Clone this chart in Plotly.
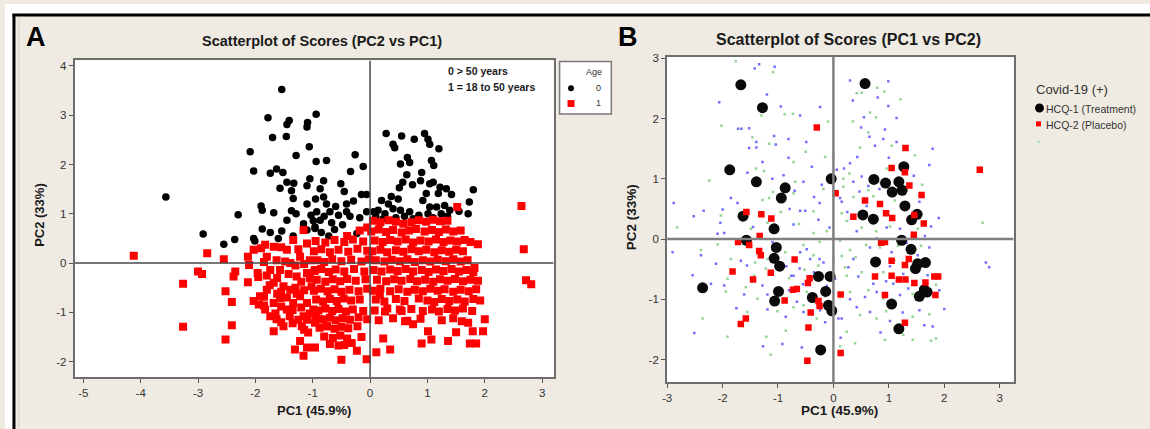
import plotly.graph_objects as go

W, H = 1150, 429


def px(x):
    return x / W


def py(y):
    return 1 - y / H


# ---------------- Panel A data: Age 0 (>50 years) ----------------
A_age0 = [
    (-1.54, 3.52), (-1.78, 2.95), (-1.41, 2.89), (-1.45, 2.81), (-1.09, 2.85), (-1.10, 2.76), (-0.94, 3.02),
    (-1.70, 2.55), (-1.46, 2.57), (-1.06, 2.36), (-2.09, 2.26), (-1.29, 2.18), (-0.94, 2.06), (-2.03, 1.87),
    (-1.74, 1.82), (-1.63, 1.91), (-1.52, 1.84), (-1.45, 1.64), (-1.33, 1.62), (-1.57, 1.52), (-1.37, 1.47),
    (-1.05, 1.71), (-1.10, 1.57), (-1.34, 1.31), (-3.56, 1.34), (-2.30, 0.98), (-1.90, 1.16), (-1.88, 1.07),
    (-1.68, 1.02), (-1.37, 1.06), (-1.29, 1.00), (-1.45, 0.87), (-1.10, 1.20), (-1.03, 0.97), (-0.99, 0.86),
    (-1.16, 0.80), (-2.91, 0.59), (-2.55, 0.38), (-2.36, 0.48), (-2.03, 0.50), (-2.01, 0.45), (-1.88, 0.69),
    (-1.74, 0.62), (-1.54, 0.65), (-1.60, 0.50), (-1.34, 0.55), (-1.10, 0.67), (-0.96, 0.70),
    (-0.76, 2.08), (-0.26, 2.20), (-0.12, 1.96), (-0.34, 1.86), (-0.81, 1.67), (-0.51, 1.61), (-0.87, 1.51),
    (-0.81, 1.34), (-0.76, 1.20), (-0.41, 1.20), (-0.29, 1.26), (-0.15, 1.39), (-0.06, 1.39), (-0.93, 1.04),
    (-0.70, 1.04), (-0.55, 0.97), (-0.87, 0.87), (-0.67, 0.82), (-0.23, 0.60), (-0.06, 1.04), (-0.96, 0.73),
    (-0.41, 1.04), (-0.85, 0.62), (-0.72, 0.55), (-0.62, 0.68), (-0.48, 0.78), (-0.35, 0.95), (-0.18, 0.92),
    (-0.80, 0.95), (-0.60, 1.15), (-0.95, 1.30), (-0.45, 1.45),
    (0.28, 2.63), (0.55, 2.58), (0.40, 2.41), (0.43, 2.34), (0.77, 2.51), (0.95, 2.63), (1.01, 2.51),
    (1.04, 2.41), (1.20, 2.32), (0.65, 2.14), (0.69, 2.04), (0.53, 2.01), (1.07, 2.08), (1.11, 1.98),
    (0.90, 1.84), (0.64, 1.79), (0.57, 1.64), (0.51, 1.53), (0.74, 1.59), (0.88, 1.67), (1.04, 1.61),
    (1.10, 1.64), (1.22, 1.54), (1.19, 1.41), (1.33, 1.51), (1.42, 1.39), (1.80, 1.49), (0.98, 1.41),
    (0.37, 1.35), (0.20, 1.27), (0.32, 1.20), (0.49, 1.30), (0.14, 1.07), (0.06, 1.04), (0.26, 1.00),
    (0.40, 1.10), (0.53, 1.07), (0.69, 1.04), (0.92, 1.27), (1.04, 1.14), (1.01, 1.00), (1.16, 1.14),
    (1.30, 1.17), (1.39, 1.07), (1.71, 1.00), (1.73, 1.24), (0.23, 0.90), (0.75, 0.90), (1.24, 1.00),
    (0.10, 0.95), (0.45, 0.92), (0.60, 0.95), (0.85, 0.97), (1.10, 0.92), (1.35, 0.95), (1.55, 1.05),
]

# ---------------- Panel A data: Age 1 (18 to 50 years) ----------------
A_age1 = [
    (-4.12, 0.15), (-2.84, 0.20), (-2.55, 0.08), (-3.00, -0.17), (-2.93, -0.22), (-3.26, -0.42), (-3.26, -1.29),
    (-2.52, -0.57), (-2.41, -0.79), (-2.41, -1.26), (-2.52, -1.55), (-2.38, -0.27), (-2.35, -0.17), (-2.13, 0.13),
    (-2.11, -0.04), (-2.13, -0.39), (-1.96, -0.20), (-2.03, 0.27), (-1.83, 0.37), (-1.68, 0.33), (-1.16, 0.67),
    (-1.45, 0.27), (-1.34, 0.47), (-1.10, 0.40), (-1.80, 0.13), (-1.63, 0.06), (-1.74, -0.14), (-1.57, -0.14),
    (-1.39, 0.00), (-1.22, 0.13), (-1.05, 0.06), (-0.96, -0.14), (-1.10, -0.20), (-1.28, -0.27), (-1.68, -0.40),
    (-1.51, -0.47), (-1.39, -0.54), (-1.80, -0.54), (-1.92, -0.67), (-2.03, -0.77), (-1.94, -0.84), (-1.83, -0.94),
    (-1.68, -0.81), (-1.57, -0.71), (-1.45, -0.94), (-1.74, -1.08), (-1.68, -1.38), (-1.51, -1.28), (-1.63, -1.14),
    (-1.22, -0.67), (-1.10, -0.81), (-0.99, -0.94), (-1.16, -1.08), (-1.19, -1.28), (-1.08, -1.41), (-1.22, -1.58),
    (-1.31, -1.75), (-1.16, -1.88), (-1.10, -1.71), (-0.96, -1.71), (-0.96, -1.21), (-1.02, -0.47), (-1.34, -0.81),
    (-1.90, 0.30), (-1.55, 0.32), (-1.25, 0.28), (-1.85, 0.02), (-1.48, 0.03), (-1.30, -0.05), (-1.15, -0.02),
    (-1.95, -0.28), (-1.80, -0.25), (-1.62, -0.30), (-1.42, -0.22), (-1.20, -0.38), (-1.05, -0.30), (-1.75, -0.45),
    (-1.55, -0.58), (-1.30, -0.50), (-1.15, -0.55), (-1.85, -0.68), (-1.62, -0.62), (-1.45, -0.70), (-1.28, -0.62),
    (-1.85, -0.86), (-1.55, -0.88), (-1.35, -0.95), (-1.20, -0.90), (-1.05, -1.02), (-1.65, -1.02), (-1.40, -1.08),
    (-1.25, -1.15), (-1.10, -1.15), (-1.55, -1.20), (-1.35, -1.22), (-1.15, -1.35),
    (-0.95, 0.45), (-0.78, 0.42), (-0.62, 0.47), (-0.45, 0.43), (-0.30, 0.48), (-0.12, 0.44), (-0.18, 0.66),
    (-0.05, 0.72), (-0.40, 0.55),
    (-0.98, 0.24), (-0.85, 0.28), (-0.70, 0.22), (-0.55, 0.27), (-0.38, 0.23), (-0.22, 0.29), (-0.05, 0.25),
    (-0.92, 0.06), (-0.80, 0.02), (-0.66, 0.08), (-0.50, 0.04), (-0.33, 0.07), (-0.15, 0.03), (-0.02, 0.08),
    (-0.97, -0.16), (-0.85, -0.12), (-0.72, -0.18), (-0.60, -0.13), (-0.45, -0.17), (-0.28, -0.12), (-0.10, -0.17),
    (-0.93, -0.34), (-0.78, -0.38), (-0.65, -0.33), (-0.52, -0.37), (-0.40, -0.32), (-0.25, -0.36), (-0.08, -0.33),
    (-0.98, -0.56), (-0.86, -0.52), (-0.74, -0.57), (-0.62, -0.53), (-0.50, -0.58), (-0.36, -0.54), (-0.20, -0.57),
    (-0.05, -0.52),
    (-0.94, -0.74), (-0.82, -0.78), (-0.70, -0.73), (-0.58, -0.77), (-0.46, -0.72), (-0.33, -0.76), (-0.18, -0.74),
    (-0.90, -0.96), (-0.78, -0.92), (-0.66, -0.97), (-0.55, -0.93), (-0.42, -0.98), (-0.30, -0.94), (-0.12, -0.97),
    (-0.95, -1.10), (-0.82, -1.14), (-0.70, -1.11), (-0.60, -1.16), (-0.48, -1.12), (-0.35, -1.15), (-0.20, -1.10),
    (-0.05, -1.14),
    (-0.88, -1.31), (-0.75, -1.28), (-0.62, -1.33), (-0.50, -1.29), (-0.38, -1.32), (-0.22, -1.28),
    (-0.80, -1.49), (-0.65, -1.52), (-0.52, -1.47), (-0.40, -1.53), (-0.15, -1.50),
    (-0.70, -1.64), (-0.45, -1.66), (-0.32, -1.62),
    (2.64, 1.16), (2.68, 0.28), (2.72, -0.35), (2.81, -0.43), (1.52, 1.14), (1.88, 0.38), (1.82, -0.10),
    (2.00, -1.14), (1.97, -1.38), (1.71, -1.21), (1.79, -1.38), (1.74, -1.63), (1.85, -1.63), (1.50, -1.40),
    (1.36, -1.58), (1.01, -1.38), (1.07, -1.55), (0.90, -1.63), (0.61, -1.18), (0.75, -1.24), (0.23, -1.53),
    (0.35, -1.75), (0.11, -1.81), (-0.06, -1.95), (-0.50, -1.96), (-0.23, -1.78), (-0.55, -1.67), (-0.76, -1.28),
    (-0.90, -1.14), (0.17, -0.64), (0.26, -0.98), (0.52, -0.94),
    (0.05, 0.86), (0.18, 0.83), (0.32, 0.87), (0.45, 0.84), (0.58, 0.80), (0.72, 0.83), (0.85, 0.87),
    (0.98, 0.84), (1.10, 0.88), (1.22, 0.85), (1.35, 0.86),
    (0.02, 0.64), (0.15, 0.68), (0.28, 0.63), (0.40, 0.67), (0.55, 0.62), (0.68, 0.66), (0.80, 0.69),
    (0.95, 0.64), (1.08, 0.67), (1.20, 0.63), (1.32, 0.68), (1.45, 0.64), (1.58, 0.66),
    (0.08, 0.46), (0.22, 0.43), (0.35, 0.47), (0.48, 0.44), (0.62, 0.48), (0.75, 0.42), (0.88, 0.46),
    (1.02, 0.44), (1.15, 0.48), (1.28, 0.43), (1.40, 0.46), (1.52, 0.44), (1.65, 0.47), (1.75, 0.43),
    (0.04, 0.24), (0.18, 0.27), (0.30, 0.22), (0.45, 0.26), (0.58, 0.23), (0.72, 0.28), (0.85, 0.24),
    (0.98, 0.27), (1.12, 0.22), (1.25, 0.26), (1.38, 0.23), (1.50, 0.27), (1.62, 0.24),
    (0.10, 0.06), (0.25, 0.03), (0.38, 0.07), (0.52, 0.04), (0.65, 0.08), (0.78, 0.02), (0.92, 0.06),
    (1.05, 0.03), (1.18, 0.07), (1.32, 0.04), (1.45, 0.08), (1.58, 0.03), (1.70, 0.06),
    (0.06, -0.14), (0.20, -0.17), (0.35, -0.13), (0.48, -0.16), (0.62, -0.12), (0.75, -0.17), (0.90, -0.14),
    (1.02, -0.18), (1.15, -0.13), (1.28, -0.16), (1.42, -0.12), (1.55, -0.17), (1.68, -0.14), (1.80, -0.18),
    (0.12, -0.34), (0.28, -0.37), (0.42, -0.33), (0.55, -0.36), (0.70, -0.32), (0.82, -0.37), (0.96, -0.34),
    (1.10, -0.38), (1.22, -0.33), (1.35, -0.36), (1.48, -0.32), (1.62, -0.37), (1.75, -0.34), (1.88, -0.36),
    (0.05, -0.56), (0.18, -0.52), (0.35, -0.57), (0.50, -0.53), (0.65, -0.58), (0.78, -0.54), (0.92, -0.57),
    (1.05, -0.52), (1.18, -0.56), (1.30, -0.53), (1.45, -0.58), (1.58, -0.54), (1.72, -0.57), (1.85, -0.53),
    (0.10, -0.74), (0.25, -0.78), (0.45, -0.73), (0.60, -0.77), (0.85, -0.72), (1.00, -0.76), (1.12, -0.79),
    (1.25, -0.73), (1.38, -0.77), (1.52, -0.74), (1.65, -0.78), (1.80, -0.73), (1.92, -0.76),
    (0.08, -0.96), (0.30, -0.92), (0.55, -0.97), (0.72, -0.93), (0.92, -0.97), (1.08, -0.94), (1.20, -0.98),
    (1.35, -0.93), (1.48, -0.96), (1.62, -0.92), (1.78, -0.97),
    (0.15, -1.16), (0.40, -1.12), (0.65, -1.17), (0.88, -1.13), (1.25, -1.16), (1.45, -1.12), (1.60, -1.18),
]

# ---------------- Panel B data ----------------
B_hcq1 = [
    (-1.67, 2.56), (-1.28, 2.18), (-1.87, 1.15), (-1.39, 0.95), (-0.87, 0.85), (-0.94, 0.68), (-1.63, 0.38),
    (-1.07, 0.17), (-1.57, -0.02), (-1.03, -0.14), (-1.07, -0.32), (-0.97, -0.45), (-2.36, -0.81), (-0.99, -0.87),
    (-1.06, -1.03), (-0.27, -0.62), (-0.06, -0.62), (-0.14, -0.87), (-0.38, -0.97), (-0.09, -1.10), (-0.03, -1.19),
    (-0.23, -1.84), (-0.04, 1.00),
    (0.57, 2.58), (1.27, 1.20), (0.73, 0.99), (0.94, 0.93), (1.18, 0.95), (1.24, 0.81), (1.06, 0.78),
    (1.29, 0.55), (1.51, 0.41), (1.41, 0.32), (0.53, 0.40), (0.72, 0.33), (1.23, -0.02), (1.40, -0.17),
    (0.76, -0.38), (1.52, -0.41), (1.66, -0.39), (1.48, -0.49), (1.64, -0.84), (1.55, -0.95), (1.69, -0.88),
    (1.05, -1.08), (1.18, -1.49),
]

B_hcq2 = [
    (-0.30, 1.85), (0.04, 0.76), (-1.57, 0.45), (-1.30, 0.41), (-1.12, 0.34), (-1.33, 0.05), (-1.72, -0.05),
    (-1.52, -0.10), (-1.34, -0.20), (-1.31, -0.27), (-0.70, -0.34), (-1.82, -0.54), (-1.45, -0.67), (-1.13, -0.56),
    (-0.43, -0.65), (-0.46, -0.73), (-0.73, -0.84), (-0.66, -0.83), (-0.88, -1.02), (-0.27, -1.03), (-0.25, -1.11),
    (-0.41, -1.22), (0.13, -0.92), (-1.58, -1.32), (-1.67, -1.41), (-0.45, -1.47), (-0.47, -2.02), (0.13, -1.89),
    (1.30, 1.51), (1.05, 1.18), (1.29, 1.11), (2.64, 1.15), (1.37, 0.89), (1.59, 0.73), (0.57, 0.64),
    (0.84, 0.58), (0.95, 0.43), (1.06, 0.35), (0.36, 0.37), (1.46, 0.40), (1.63, 0.26), (1.45, 0.07),
    (0.86, -0.06), (0.93, -0.05), (1.05, -0.36), (1.29, -0.43), (1.36, -0.33), (0.75, -0.62), (1.05, -0.61),
    (1.18, -0.67), (1.30, -0.67), (1.46, -0.73), (1.66, -0.72), (1.82, -0.62), (1.89, -0.62), (1.84, -0.93),
    (0.93, -0.93), (1.29, -1.39),
]

B_blue = [
    (-1.34, 2.90), (-1.42, 2.83), (-1.06, 2.86), (-2.06, 2.27), (-0.24, 2.19), (-1.72, 1.83), (-1.66, 1.83),
    (-1.52, 1.84), (-1.39, 1.61), (-1.39, 1.52), (-1.07, 1.71), (-1.04, 1.57), (-0.81, 1.66), (-0.49, 1.61),
    (-1.52, 1.51), (-1.28, 1.28), (-0.81, 1.35), (-0.39, 1.20), (-0.90, 1.06), (-0.54, 0.95), (-0.21, 0.90),
    (-1.85, 0.68), (-1.73, 0.60), (-2.00, 0.49), (-2.34, 0.47), (-2.52, 0.38), (-2.88, 0.60), (-2.04, 0.27),
    (-0.60, 0.47), (-0.51, 0.47), (-0.25, 0.60), (-0.79, 0.50), (-0.27, 0.32), (0.12, 0.68), (-0.72, 0.24),
    (-0.07, 0.19), (-2.09, 0.09), (-1.97, 0.10), (-2.39, -0.27), (-2.12, -0.41), (-1.67, -0.36), (-1.56, -0.44),
    (-0.76, -0.61), (-0.72, -0.61), (-0.61, -0.49), (-0.48, -0.17), (-0.60, -0.22), (-0.42, -0.33), (-0.25, -0.33),
    (-0.18, -0.39), (-2.54, -0.60), (-2.21, -0.74), (-1.97, -0.77), (-1.61, -0.92), (-1.28, -0.77), (-1.19, -0.92),
    (-1.46, -0.69), (-0.66, -1.04), (-0.54, -1.21), (-0.24, -1.18), (-0.15, -1.38), (0.09, -1.32), (0.13, -1.64),
    (-2.51, -1.56), (-1.27, -1.78), (-0.57, -1.80), (-0.92, -1.74), (-2.90, -0.22), (-1.19, -1.17), (-0.86, -1.29),
    (-0.12, -0.78), (0.03, -0.66),
    (-1.20, 2.40), (-0.95, 2.20), (-0.60, 2.05), (-1.55, 1.10), (-1.10, 1.00), (-0.70, 0.80), (-0.35, 0.70),
    (-1.45, 0.20), (-1.10, -0.05), (-0.85, -0.45), (-0.55, -0.75), (-0.35, -0.55), (-1.75, -1.15), (-0.80, -0.85),
    (0.35, 2.30), (0.80, 2.35), (0.50, 1.85), (1.00, 1.35), (1.45, 1.05), (0.25, 0.45), (0.60, 0.55),
    (1.65, 0.05), (0.45, -0.62), (0.95, -0.70), (1.70, -0.60), (0.30, -1.00), (1.25, -1.22), (0.85, -1.55),
    (0.30, 2.63), (0.99, 2.62), (0.99, 2.21), (1.14, 2.01), (0.55, 2.02), (0.65, 1.70), (0.90, 1.66),
    (0.93, 1.82), (1.14, 1.61), (0.75, 1.55), (1.79, 1.50), (0.43, 1.36), (0.30, 1.26), (1.73, 1.23),
    (0.06, 1.15), (0.19, 1.17), (0.51, 1.04), (0.36, 0.95), (0.63, 0.88), (0.47, 0.79), (0.15, 0.62),
    (0.83, 0.83), (1.20, 0.83), (1.55, 0.62), (1.90, 0.35), (1.76, 0.21), (0.96, 0.19), (1.20, 0.17),
    (0.42, 0.13), (0.78, 0.01), (1.32, -0.06), (0.66, -0.14), (1.73, -0.14), (1.05, -0.22), (1.52, -0.27),
    (2.81, -0.47), (2.75, -0.39), (0.36, -0.33), (0.27, -0.47), (1.02, -0.45), (1.26, -0.58), (0.72, -0.74),
    (1.08, -0.74), (1.35, -0.82), (1.91, -0.85), (0.78, -0.88), (0.57, -0.96), (1.20, -0.93), (1.49, -1.00),
    (2.00, -1.16), (0.15, -1.32), (1.02, -1.36), (1.55, -1.18), (1.64, -1.43), (1.79, -1.45), (0.42, -1.13),
    (0.66, -1.21),
]

B_green = [
    (-1.76, 2.95), (-1.09, 2.77), (-0.88, 2.07), (-0.73, 2.08), (-2.02, 1.88), (-0.10, 1.95), (0.00, 1.40),
    (-0.15, 1.36), (-1.46, 1.69), (-1.16, 1.58), (-1.40, 1.17), (-1.25, 1.13), (-0.72, 1.28), (-0.69, 0.95),
    (-1.09, 0.78), (-2.24, 0.97), (-1.28, 0.65), (-1.16, 0.68), (-0.72, 0.76), (-0.18, 0.83), (-0.36, 0.46),
    (0.18, 0.87), (-2.82, 0.19), (-2.03, 0.39), (-1.49, 0.17), (-1.19, 0.27), (-0.36, 0.10), (-0.12, 0.13),
    (0.12, -0.03), (-2.09, -0.09), (-2.39, -0.18), (-1.85, -0.33), (-1.41, -0.39), (-1.19, -0.33), (-0.87, -0.22),
    (-0.54, -0.10), (-0.36, -0.27), (0.00, -0.33), (-1.91, -0.66), (-1.43, -0.61), (-1.22, -0.49), (-0.52, -0.51),
    (-0.27, -0.44), (0.15, -0.28), (-1.94, -0.87), (-1.58, -0.80), (-1.37, -0.99), (-1.01, -1.20), (-0.72, -1.13),
    (-0.48, -0.88), (-0.30, -1.32), (0.00, -1.21), (-2.36, -1.32), (-1.55, -1.21), (-1.21, -1.62), (-0.86, -1.52),
    (-1.13, -1.92), (-1.91, -1.62), (-0.54, -1.10), (0.24, -0.61),
    (-1.30, 2.05), (-0.50, 1.45), (-0.95, 0.45), (-0.62, 0.25), (-0.25, -0.05), (-0.80, -0.65), (-0.15, -0.95),
    (0.42, 2.42), (0.51, 2.43), (0.79, 2.51), (0.92, 2.45), (1.21, 2.32), (0.66, 2.10), (0.77, 2.02),
    (0.63, 1.77), (0.48, 1.52), (0.29, 1.09), (0.18, 1.00), (1.47, 1.39), (0.96, 1.17), (0.85, 0.94),
    (0.36, 0.70), (0.63, 0.81), (0.72, 0.71), (1.11, 0.64), (2.69, 0.27), (0.15, 0.43), (0.24, 0.30),
    (0.51, 0.19), (0.77, 0.13), (1.02, 0.21), (1.52, 0.17), (0.30, -0.18), (0.59, -0.10), (0.84, -0.14),
    (1.17, -0.11), (1.58, -0.11), (0.21, -0.47), (0.51, -0.55), (0.90, -0.55), (1.40, -0.49), (0.30, -0.88),
    (0.63, -0.85), (0.90, -0.99), (1.43, -0.91), (1.85, -0.76), (0.48, -1.26), (0.78, -1.32), (1.43, -1.29),
    (1.73, -1.25), (0.24, -1.54), (0.93, -1.67), (1.26, -1.59), (1.43, -1.67), (1.76, -1.69), (1.85, -1.65),
    (0.12, -1.78), (0.39, -1.73),
    (0.35, 1.95), (1.05, 1.55), (1.60, 0.90), (0.40, -0.30), (1.10, -0.35), (1.60, -0.40), (0.95, -1.20),
]

# ---------------- Axis ticks / ranges ----------------
A_xticks = [-5, -4, -3, -2, -1, 0, 1, 2, 3]
A_yticks = [-2, -1, 0, 1, 2, 3, 4]
B_xticks = [-3, -2, -1, 0, 1, 2, 3]
B_yticks = [-2, -1, 0, 1, 2, 3]
A_xrange = [-5.15, 3.2]
A_yrange = [-2.32, 4.11]
B_xrange = [-3.0, 3.25]
B_yrange = [-2.38, 3.03]


def xs(pts):
    return [p[0] for p in pts]


def ys(pts):
    return [p[1] for p in pts]


fig = go.Figure()

# Panel A
fig.add_trace(go.Scatter(x=xs(A_age0), y=ys(A_age0), mode="markers", xaxis="x", yaxis="y",
                         marker=dict(symbol="circle", size=7.5, color="#000000", line=dict(width=0)),
                         showlegend=False, hoverinfo="skip"))
fig.add_trace(go.Scatter(x=xs(A_age1), y=ys(A_age1), mode="markers", xaxis="x", yaxis="y",
                         marker=dict(symbol="square", size=8, color="#ff0000", line=dict(width=0)),
                         showlegend=False, hoverinfo="skip"))

# Panel B
fig.add_trace(go.Scatter(x=xs(B_blue), y=ys(B_blue), mode="markers", xaxis="x2", yaxis="y2",
                         marker=dict(symbol="square", size=2.5, color="#7070ff", line=dict(width=0)),
                         showlegend=False, hoverinfo="skip"))
fig.add_trace(go.Scatter(x=xs(B_green), y=ys(B_green), mode="markers", xaxis="x2", yaxis="y2",
                         marker=dict(symbol="square", size=2.5, color="#94d494", line=dict(width=0)),
                         showlegend=False, hoverinfo="skip"))
fig.add_trace(go.Scatter(x=xs(B_hcq1), y=ys(B_hcq1), mode="markers", xaxis="x2", yaxis="y2",
                         marker=dict(symbol="circle", size=11, color="#0a0a0a", line=dict(width=0)),
                         showlegend=False, hoverinfo="skip"))
fig.add_trace(go.Scatter(x=xs(B_hcq2), y=ys(B_hcq2), mode="markers", xaxis="x2", yaxis="y2",
                         marker=dict(symbol="square", size=6.5, color="#ff0000", line=dict(width=0)),
                         showlegend=False, hoverinfo="skip"))

FONT = "Arial, Liberation Sans, sans-serif"
tickfont = dict(family=FONT, size=11.5, color="#333333")
axis_common = dict(showgrid=False, zeroline=False, ticks="outside", ticklen=4, tickwidth=1,
                   tickcolor="#555555", showline=True, linecolor="#6e6e6e", linewidth=2,
                   mirror=True, tickfont=tickfont, fixedrange=True)

fig.update_layout(
    width=W, height=H,
    margin=dict(l=0, r=0, t=0, b=0),
    paper_bgcolor="#efebe2",
    plot_bgcolor="#ffffff",
    showlegend=False,
    xaxis=dict(domain=[px(70), px(551)], anchor="y", range=A_xrange,
               tickvals=A_xticks, ticktext=[str(v) for v in A_xticks], **axis_common),
    yaxis=dict(domain=[py(377), py(57)], anchor="x", range=A_yrange,
               tickvals=A_yticks, ticktext=[str(v) for v in A_yticks], **axis_common),
    xaxis2=dict(domain=[px(665), px(1013)], anchor="y2", range=B_xrange,
                tickvals=B_xticks, ticktext=[str(v) for v in B_xticks], **axis_common),
    yaxis2=dict(domain=[py(382), py(53)], anchor="x2", range=B_yrange,
                tickvals=B_yticks, ticktext=[str(v) for v in B_yticks], **axis_common),
)

shapes = []
# white strips outside the frame, then black frame lines
shapes.append(dict(type="rect", xref="paper", yref="paper", x0=0, x1=1, y0=py(10), y1=1,
                   fillcolor="#ffffff", line=dict(width=0), layer="above"))
shapes.append(dict(type="rect", xref="paper", yref="paper", x0=0, x1=px(8), y0=0, y1=1,
                   fillcolor="#ffffff", line=dict(width=0), layer="above"))
shapes.append(dict(type="line", xref="paper", yref="paper", x0=px(7.5), x1=1, y0=py(11), y1=py(11),
                   line=dict(color="#000000", width=3), layer="above"))
shapes.append(dict(type="line", xref="paper", yref="paper", x0=px(9), x1=px(9), y0=0, y1=py(10),
                   line=dict(color="#000000", width=3), layer="above"))
shapes.append(dict(type="line", xref="paper", yref="paper", x0=px(14), x1=px(14), y0=0, y1=py(13),
                   line=dict(color="#d0ccc4", width=1), layer="above"))
# reference lines in A
shapes.append(dict(type="line", xref="x", yref="y", x0=0, x1=0, y0=A_yrange[0], y1=A_yrange[1],
                   line=dict(color="#4a4a4a", width=1.5), layer="above"))
shapes.append(dict(type="line", xref="x", yref="y", x0=A_xrange[0], x1=A_xrange[1], y0=0, y1=0,
                   line=dict(color="#4a4a4a", width=1.5), layer="above"))
# reference lines in B
shapes.append(dict(type="line", xref="x2", yref="y2", x0=0, x1=0, y0=B_yrange[0], y1=B_yrange[1],
                   line=dict(color="#808080", width=2.5), layer="above"))
shapes.append(dict(type="line", xref="x2", yref="y2", x0=B_xrange[0], x1=B_xrange[1], y0=0, y1=0,
                   line=dict(color="#808080", width=2.5), layer="above"))
# Legend box A
shapes.append(dict(type="rect", xref="paper", yref="paper", x0=px(557), x1=px(609), y0=py(111), y1=py(58),
                   fillcolor="#ffffff", line=dict(color="#7a7a7a", width=1.5), layer="above"))
shapes.append(dict(type="circle", xref="paper", yref="paper", x0=px(565.5), x1=px(571.5), y0=py(88), y1=py(82),
                   fillcolor="#000000", line=dict(width=0), layer="above"))
shapes.append(dict(type="rect", xref="paper", yref="paper", x0=px(565), x1=px(572), y0=py(104), y1=py(97),
                   fillcolor="#ff0000", line=dict(width=0), layer="above"))
# Legend B markers
shapes.append(dict(type="circle", xref="paper", yref="paper", x0=px(1034.5), x1=px(1043.5), y0=py(109.5), y1=py(100.5),
                   fillcolor="#000000", line=dict(width=0), layer="above"))
shapes.append(dict(type="rect", xref="paper", yref="paper", x0=px(1035.5), x1=px(1040.5), y0=py(123.5), y1=py(118.5),
                   fillcolor="#ff0000", line=dict(width=0), layer="above"))
shapes.append(dict(type="rect", xref="paper", yref="paper", x0=px(1037), x1=px(1039), y0=py(140), y1=py(138),
                   fillcolor="#94d494", line=dict(width=0), layer="above"))
fig.update_layout(shapes=shapes)


def ann(text, x, y, size, bold=False, xanchor="center", yanchor="middle", angle=0, color="#1a1a1a"):
    t = "<b>%s</b>" % text if bold else text
    return dict(text=t, x=px(x), y=py(y), xref="paper", yref="paper", showarrow=False,
                xanchor=xanchor, yanchor=yanchor, textangle=angle,
                font=dict(family=FONT, size=size, color=color))


annotations = [
    ann("A", 31, 33, 27, bold=True, color="#000000"),
    ann("B", 626, 33, 27, bold=True, color="#000000"),
    ann("Scatterplot of Scores (PC2 vs PC1)", 318, 37, 14.5, bold=True),
    ann("Scatterplot of Scores (PC1 vs PC2)", 847, 36, 16, bold=True),
    ann("PC1 (45.9%)", 310, 410, 13, bold=True),
    ann("PC2 (33%)", 34, 213, 13, bold=True, angle=-90),
    ann("PC1 (45.9%)", 838, 410, 13.5, bold=True),
    ann("PC2 (33%)", 630, 215, 13.5, bold=True, angle=-90),
    ann("0 &gt; 50 years", 443, 68, 10.5, bold=True, xanchor="left"),
    ann("1 = 18 to 50 years", 443, 84, 10.5, bold=True, xanchor="left"),
    ann("Age", 602, 69, 9, xanchor="right", color="#333333"),
    ann("0", 601, 85, 9, xanchor="right", color="#333333"),
    ann("1", 601, 100, 9, xanchor="right", color="#333333"),
    ann("Covid-19 (+)", 1033, 86, 13, xanchor="left", color="#333333"),
    ann("HCQ-1 (Treatment)", 1044, 106, 10.5, xanchor="left", color="#333333"),
    ann("HCQ-2 (Placebo)", 1044, 122, 10.5, xanchor="left", color="#333333"),
]
fig.update_layout(annotations=annotations)

fig.write_html(
    "out.html",
    config={"displayModeBar": False, "staticPlot": True},
    post_script="document.body.style.margin='0px';document.body.style.overflow='hidden';",
)
